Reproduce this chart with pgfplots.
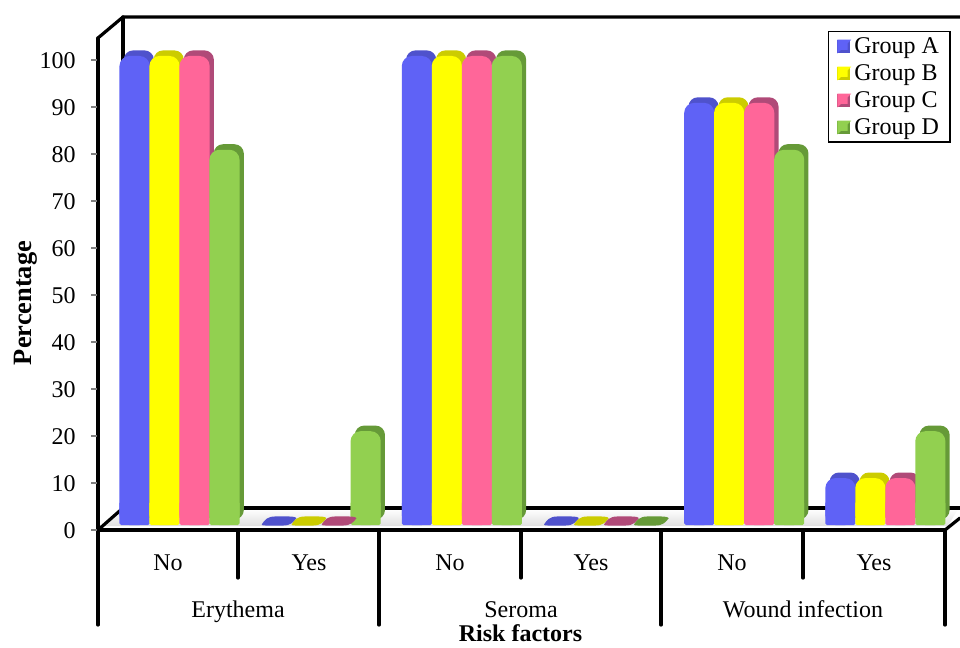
\documentclass[border=0pt]{standalone}
\usepackage{pgfplots}
\usepackage{pgfplotstable}
\usepackage{fontspec}
\setmainfont{Liberation Serif}
\pgfplotsset{compat=1.18}
\definecolor{fA}{HTML}{5F62F6}\definecolor{dA}{HTML}{4F52CC}
\definecolor{fB}{HTML}{FFFF00}\definecolor{dB}{HTML}{CCCC00}
\definecolor{fC}{HTML}{FF6699}\definecolor{dC}{HTML}{B04A78}
\definecolor{fD}{HTML}{92D050}\definecolor{dD}{HTML}{669A38}
\pgfplotstableread{
x y
0.259 100
1.259 0
2.259 100
3.259 0
4.259 90
5.259 10
}\tabA
\pgfplotstableread{
x y
0.471 100
1.471 0
2.471 100
3.471 0
4.471 90
5.471 10
}\tabB
\pgfplotstableread{
x y
0.684 100
1.684 0
2.684 100
3.684 0
4.684 90
5.684 10
}\tabC
\pgfplotstableread{
x y
0.896 80
1.896 20
2.896 100
3.896 0
4.896 80
5.896 20
}\tabD
\pgfdeclareplotmark{blob}{%
  \pgfpathmoveto{\pgfpoint{-13pt}{-2.6pt}}%
  \pgfpathcurveto{\pgfpoint{-11pt}{0.5pt}}{\pgfpoint{-9pt}{3.4pt}}{\pgfpoint{-3pt}{3.4pt}}%
  \pgfpathlineto{\pgfpoint{7pt}{3.4pt}}%
  \pgfpathcurveto{\pgfpoint{10pt}{3.4pt}}{\pgfpoint{13pt}{3pt}}{\pgfpoint{13pt}{2pt}}%
  \pgfpathcurveto{\pgfpoint{11pt}{-0.5pt}}{\pgfpoint{9pt}{-3.4pt}}{\pgfpoint{3pt}{-3.4pt}}%
  \pgfpathlineto{\pgfpoint{-9pt}{-3.4pt}}%
  \pgfpathcurveto{\pgfpoint{-12pt}{-3.4pt}}{\pgfpoint{-13.5pt}{-3.2pt}}{\pgfpoint{-13pt}{-2.6pt}}%
  \pgfpathclose
  \pgfusepathqfill}
\newcommand{\series}[3]{%
  \addplot[ybar,bar shift=0pt,bar width=22.6pt,draw=none,fill=#2,rounded corners=7pt,
    xshift=3.2pt,yshift=4.2pt,forget plot,unbounded coords=discard,
    y filter/.expression={y==0 ? nan : y}] table[x=x,y=y] {#3};
  \addplot[ybar,bar shift=0pt,bar width=22.6pt,draw=none,fill=#1,rounded corners=7.5pt,
    forget plot,unbounded coords=discard,
    y filter/.expression={y==0 ? nan : y}] table[x=x,y=y] {#3};
  \addplot[ybar,bar shift=0pt,bar width=22.6pt,draw=none,fill=#1,rounded corners=1.2pt,
    forget plot,unbounded coords=discard,
    y filter/.expression={y==0 ? nan : min(y,5)}] table[x=x,y=y] {#3};
  \addplot[only marks,mark=blob,mark options={draw=none,fill=#2},
    xshift=2.5pt,yshift=3pt,forget plot,unbounded coords=discard,
    y filter/.expression={y==0 ? 0 : nan}] table[x=x,y=y] {#3};
}
\newcommand{\legimg}[2]{%
  \addlegendimage{legend image code/.code={%
    \fill[#2] (1pt,-4.4pt) rectangle (9.8pt,4.4pt);
    \fill[#1] (1pt,4.4pt) -- (9.8pt,4.4pt) -- (7.8pt,2.4pt) -- (7.8pt,-2.4pt) -- (3pt,-2.4pt) -- (1pt,-4.4pt) -- cycle;
  }}}
\begin{document}
\begin{tikzpicture}
\useasboundingbox (0,0) rectangle (720pt,485.25pt);
% frame behind the bars
\begin{scope}[x=0.75pt,y=-0.75pt,yshift=485.25pt,line cap=round,line join=round]
  \shade[top color=white,bottom color=gray!25] (118,509) -- (958,509) -- (948,526) -- (104,526) -- cycle;
  \draw[line width=2.4pt] (98,38) -- (123,17) -- (960,17);
  \draw[line width=2.4pt] (123,17) -- (123,508) -- (960,508);
  \draw[line width=2.4pt] (98,530) -- (123,508);
\end{scope}
% axis with the value scale
\begin{axis}[
  anchor=origin,at={(73.5pt,87.75pt)},
  scale only axis,width=635.25pt,height=352.5pt,
  xmin=0,xmax=6,ymin=0,ymax=100,clip=false,
  axis x line=none,axis y line=left,
  y axis line style={-,draw=gray,line width=0.5pt},
  ytick={0,10,...,100},
  ytick style={draw=gray,line width=0.8pt},
  major tick length=4.5pt,
  tick align=outside,
  yticklabel style={font=\fontsize{18}{18}\selectfont,xshift=-8.75pt,yshift=-0.75pt},
  /pgf/number format/assume math mode=true,
  ylabel={\textbf{Percentage}},
  ylabel style={font=\fontsize{19.8}{20}\selectfont,at={(rel axis cs:-0.0855,0.483)},anchor=center,rotate=0},
]
\end{axis}
% bars
\begin{axis}[
  anchor=origin,at={(73.5pt,91.5pt)},
  scale only axis,width=635.25pt,height=351.75pt,
  xmin=0,xmax=6,ymin=0,ymax=100,clip=false,
  axis lines=none,
  legend cell align=left,
  legend columns=1,
  legend style={at={(axis cs:5.17,105.4)},anchor=north west,draw=black,line width=0.9pt,
    font=\fontsize{18}{18}\selectfont,inner xsep=6.75pt,inner ysep=1pt,
    row sep=0pt,
    nodes={inner ysep=0.9pt,inner xsep=1.5pt,minimum height=20.25pt,anchor=west},
    /tikz/every even column/.append style={column sep=1pt}},
]
\series{fA}{dA}{\tabA}
\series{fB}{dB}{\tabB}
\series{fC}{dC}{\tabC}
\series{fD}{dD}{\tabD}
\legimg{fA}{dA}\addlegendentry{\hspace{1.5pt}Group A}
\legimg{fB}{dB}\addlegendentry{\hspace{1.5pt}Group B}
\legimg{fC}{dC}\addlegendentry{\hspace{1.5pt}Group C}
\legimg{fD}{dD}\addlegendentry{\hspace{1.5pt}Group D}
\end{axis}
% frame in front and the labels
\begin{scope}[x=0.75pt,y=-0.75pt,yshift=485.25pt,line cap=round,line join=round]
  \draw[line width=2.4pt] (98,38) -- (98,625);
  \draw[line width=2.4pt] (98,530) -- (945,530);
  \draw[line width=2.4pt] (945,530) -- (960,518);
  \foreach \k in {0,...,10} \draw[gray,line width=0.8pt,line cap=butt] (91,530-47*\k) -- (97,530-47*\k);
  \foreach \x in {238,521,803} \draw[line width=2.4pt] (\x,530) -- (\x,578);
  \foreach \x in {379,661,945} \draw[line width=2.4pt] (\x,530) -- (\x,625);
  \begin{scope}[every node/.style={font=\fontsize{18}{18}\selectfont,anchor=base}]
    \foreach \x/\t in {168/No,309/Yes,450/No,591/Yes,732/No,874/Yes}
      \node at (\x,570) {\t};
    \node at (238,617) {Erythema};
    \node at (521,617) {Seroma};
    \node at (803,617) {Wound infection};
    \node[inner ysep=0pt] at (520.5,641.5) {\textbf{Risk factors}};
  \end{scope}
\end{scope}
\end{tikzpicture}
\end{document}
